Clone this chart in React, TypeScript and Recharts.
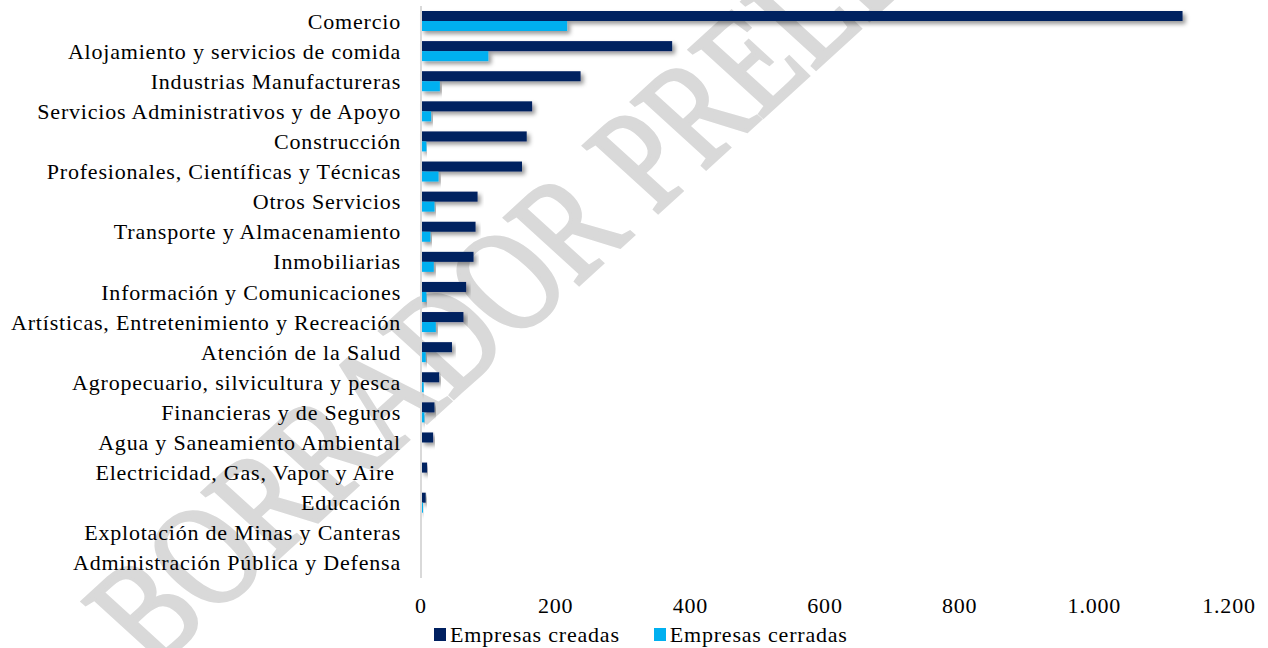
import React from "react";
import { BarChart, Bar, XAxis, YAxis, Legend } from "recharts";

const categories = [
  "Comercio",
  "Alojamiento y servicios de comida",
  "Industrias Manufactureras",
  "Servicios Administrativos y de Apoyo",
  "Construcción",
  "Profesionales, Científicas y Técnicas",
  "Otros Servicios",
  "Transporte y Almacenamiento",
  "Inmobiliarias",
  "Información y Comunicaciones",
  "Artísticas, Entretenimiento y Recreación",
  "Atención de la Salud",
  "Agropecuario, silvicultura y pesca",
  "Financieras y de Seguros",
  "Agua y Saneamiento Ambiental",
  "Electricidad, Gas, Vapor y Aire ",
  "Educación",
  "Explotación de Minas y Canteras",
  "Administración Pública y Defensa",
];

const creadas = [1131, 373, 237, 165, 157, 150, 84, 81, 78, 67, 63, 46, 27, 20, 18, 9, 7, 1, 0];
const cerradas = [217, 100, 28, 15, 8, 26, 20, 14, 19, 8, 22, 7, 4, 5, 1, 1, 3, 0, 0];

const xTicks = [0, 200, 400, 600, 800, 1000, 1200];

const seriesNames = ["Empresas creadas", "Empresas cerradas"];
const colors = ["#002060", "#00B0F0"];

const FONT = '"Liberation Serif", "Times New Roman", serif';

const data = categories.map((name, i) => ({
  name,
  creadas: creadas[i],
  cerradas: cerradas[i],
}));

// miles con punto: 1000 -> "1.000"
const fmt = (v: number) => String(v).replace(/\B(?=(\d{3})+(?!\d))/g, ".");

const CategoryTick = (props: any) => {
  const { x, y, payload } = props;
  return (
    <text
      x={x}
      y={y}
      textAnchor="end"
      dominantBaseline="central"
      fontFamily={FONT}
      fontSize={22}
      letterSpacing={0.8}
      fill="#000"
      style={{ whiteSpace: "pre" }}
    >
      {payload.value}
    </text>
  );
};

const ShadowBar = (props: any) => {
  const { x, y, width, height, fill } = props;
  if (!width || width <= 0) return null;
  return <rect x={x} y={y} width={width} height={height} fill={fill} filter="url(#barShadow)" />;
};

const LegendBox = () => (
  <div
    style={{
      width: 1268,
      height: 30,
      display: "flex",
      alignItems: "center",
      paddingLeft: 434,
      paddingTop: 3,
      boxSizing: "border-box",
      fontFamily: FONT,
      fontSize: 22,
      letterSpacing: 0.8,
      color: "#000",
    }}
  >
    {seriesNames.map((n, i) => (
      <div key={n} style={{ display: "flex", alignItems: "center", marginRight: 34 }}>
        <span style={{ width: 12, height: 13, background: colors[i], marginRight: 4, display: "inline-block" }} />
        <span>{n}</span>
      </div>
    ))}
  </div>
);

export default function App() {
  return (
    <div style={{ position: "absolute", left: 0, top: 0, width: 1268, height: 648, background: "#fff", overflow: "hidden" }}>
      {/* marca de agua */}
      <svg width={1268} height={648} style={{ position: "absolute", left: 0, top: 0 }}>
        <g transform="translate(668 203) scale(1.1 1) rotate(-45) scale(1 1.3)">
          <text
            x={0}
            y={0}
            textAnchor="middle"
            fontFamily={FONT}
            fontSize={111}
            fill="#d9d9d9"
            stroke="#d9d9d9"
            strokeWidth={3}
          >
            BORRADOR PRELIMINAR
          </text>
        </g>
      </svg>
      <div style={{ position: "absolute", left: 0, top: 0 }}>
        <BarChart
          width={1268}
          height={648}
          data={data}
          layout="vertical"
          margin={{ top: 6, right: 39, bottom: 0, left: 0 }}
          barGap={0}
          barSize={10}
        >
          <defs>
            <filter id="barShadow" x="-5%" y="-50%" width="115%" height="250%">
              <feDropShadow dx={3} dy={3} stdDeviation={2} floodColor="#000" floodOpacity={0.4} />
            </filter>
          </defs>
          <XAxis
            type="number"
            domain={[0, 1200]}
            ticks={xTicks}
            tickFormatter={fmt}
            axisLine={false}
            tickLine={false}
            tickSize={0}
            tickMargin={19}
            height={40}
            tick={{ fontFamily: FONT, fontSize: 22, fill: "#000", letterSpacing: 0.8 }}
          />
          <YAxis
            type="category"
            dataKey="name"
            width={421}
            interval={0}
            tickLine={false}
            tickSize={0}
            tickMargin={20}
            axisLine={{ stroke: "#d9d9d9", strokeWidth: 2 }}
            tick={<CategoryTick />}
          />
          <Legend verticalAlign="bottom" content={<LegendBox />} wrapperStyle={{ left: 0, bottom: 0, width: 1268, height: 30 }} />
          <Bar dataKey="creadas" name={seriesNames[0]} fill={colors[0]} shape={<ShadowBar />} isAnimationActive={false} />
          <Bar dataKey="cerradas" name={seriesNames[1]} fill={colors[1]} shape={<ShadowBar />} isAnimationActive={false} />
        </BarChart>
      </div>
    </div>
  );
}
